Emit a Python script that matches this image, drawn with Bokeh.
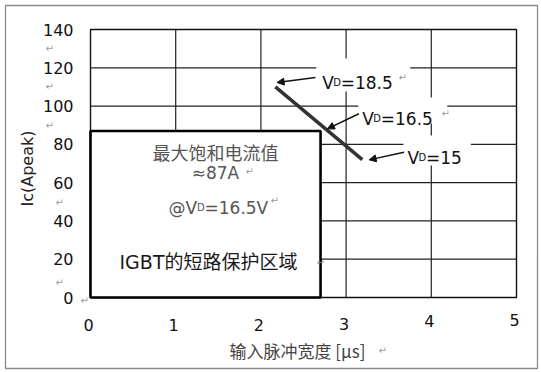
from bokeh.plotting import figure
from bokeh.models import Arrow, NormalHead, Range1d
from bokeh.core.properties import value
from bokeh.embed import file_html
from bokeh.resources import INLINE
import math

# ---- data ----
x_ticks = [0, 1, 2, 3, 4, 5]
y_ticks = [0, 20, 40, 60, 80, 100, 120, 140]
curve_x = [2.17, 3.19]          # pulse width (us)
curve_y = [110, 72]             # Ic (A peak)
box_right = 2.70                # protection area limit (us)
box_top = 87                    # max saturation current (A)
vd_labels = ["18.5", "16.5", "15"]
vd_text_pos = [(2.72, 112.3), (3.19, 93.5), (3.72, 73.1)]
vd_arrow_start = [(2.64, 114.9), (3.15, 96.0), (3.68, 75.9)]
vd_arrow_end = [(2.19, 112.3), (2.78, 88.1), (3.27, 71.9)]

W, H = 541, 372
L, R, T, B = 90, 25, 29, 75          # margins of the chart frame (px)
PX = (W - L - R) / 5.0               # px per us
PY = (H - T - B) / 140.0             # px per A

def dx(px):   # screen x (from left) -> data x
    return (px - L) / PX

def dy(py):   # screen y (from top) -> data y
    return (H - B - py) / PY

LAT = "DejaVu Sans"
CJK = "Noto Sans CJK SC"

p = figure(width=W, height=H, output_backend="svg", toolbar_location=None,
           x_range=Range1d(dx(0), dx(W)), y_range=Range1d(dy(H), dy(0)),
           x_axis_location=None, y_axis_location=None,
           min_border=0)
p.background_fill_color = "white"
p.border_fill_color = "white"
p.outline_line_color = None
p.xgrid.visible = False
p.ygrid.visible = False

# outer page frame
p.quad(left=[dx(5)], right=[dx(537)], top=[dy(5)], bottom=[dy(368)],
       fill_color=None, line_color="#8a8a8a", line_width=1.3)

# grid
gx = x_ticks[1:-1]
gy = y_ticks[1:-1]
p.segment(x0=gx, x1=gx, y0=[y_ticks[0]] * len(gx), y1=[y_ticks[-1]] * len(gx),
          line_color="#222222", line_width=1.2)
p.segment(x0=[x_ticks[0]] * len(gy), x1=[x_ticks[-1]] * len(gy), y0=gy, y1=gy,
          line_color="#222222", line_width=1.2)
p.quad(left=[x_ticks[0]], right=[x_ticks[-1]], bottom=[y_ticks[0]], top=[y_ticks[-1]],
       fill_color=None, line_color="#111111", line_width=1.4)

# protection area box
p.quad(left=[0], right=[box_right], bottom=[0], top=[box_top],
       fill_color="white", line_color="#000000", line_width=2.6)

# white text boxes behind the VD labels (pad left, right, above, below in px)
pads = [(6, 15, 24, 9), (4, 12, 21, 5), (4, 12, 22, 8)]
for (x0, y0), (pl, pr, pt, pb), val in zip(vd_text_pos, pads, vd_labels):
    wpx = 19 + 10.8 * (len(val) + 1)
    p.quad(left=[x0 - pl / PX], right=[x0 + (wpx + pr) / PX],
           bottom=[y0 - pb / PY], top=[y0 + pt / PY],
           fill_color="white", line_color=None)

# VD line
p.line(curve_x, curve_y, line_color="#333333", line_width=3.5)

# arrows
for (xs, ys), (xe, ye) in zip(vd_arrow_start, vd_arrow_end):
    p.add_layout(Arrow(x_start=xs, y_start=ys, x_end=xe, y_end=ye,
                       line_color="#111111", line_width=1.5,
                       end=NormalHead(size=7, fill_color="#111111", line_color="#111111")))

def add(text, x, y, size, font=LAT, color="#111111", align="left", baseline="alphabetic",
        angle=0):
    p.text(x=[x], y=[y], text=[text], text_font=value(font), text_font_size=f"{size}px",
           text_color=color, text_align=align, text_baseline=baseline, angle=angle)

# VD labels with subscript D
for val, (x0, y0) in zip(vd_labels, vd_text_pos):
    add("V", x0, y0, 17)
    add("D", x0 + 11 / PX, y0, 10)
    add("=" + val, x0 + 18.5 / PX, y0, 17)

# y tick labels
for v in y_ticks:
    add(str(v), dx(L - 17), v, 16, align="right", baseline="middle")
# x tick labels (slightly staggered as in the scanned original)
x_lift = [0, 0, 0, 1, 4, 5]
for v, lift in zip(x_ticks, x_lift):
    add(str(v), v - 2 / PX, dy(H - B + 27 - lift), 16, align="center", baseline="middle")

# box texts
add("最大饱和电流值", dx(215), dy(151), 18, font=CJK, color="#555555", align="center", baseline="middle")
add("≈87A", dx(215), dy(172), 17, color="#555555", align="center", baseline="middle")
x0 = dx(168)
yb = dy(207)
add("@V", x0, yb, 17, color="#555555")
add("D", x0 + 28.5 / PX, yb, 10, color="#555555")
add("=16.5V", x0 + 36 / PX, yb, 17, color="#555555")
add("IGBT的短路保护区域", dx(208), dy(261), 19, font=f"{LAT}, {CJK}", color="#1a1a1a",
    align="center", baseline="middle")

# axis titles
add("输入脉冲宽度 [µs]", dx(297), dy(350), 17, font=CJK, color="#444444",
    align="center", baseline="middle")
add("Ic(Apeak)", dx(27), dy(168), 16, color="#222222",
    align="center", baseline="middle", angle=math.pi / 2)

# paragraph marks (document artefacts)
marks = [(45, 48), (45, 86), (45, 125), (55, 202), (55, 282), (80, 300),
         (245, 171), (270, 200), (316, 262), (398, 77), (441, 113), (378, 350)]
for mx, my in marks:
    add("↵", dx(mx), dy(my), 10, color="#999999", align="left", baseline="middle")

open("out.html", "w").write(file_html(p, INLINE))
